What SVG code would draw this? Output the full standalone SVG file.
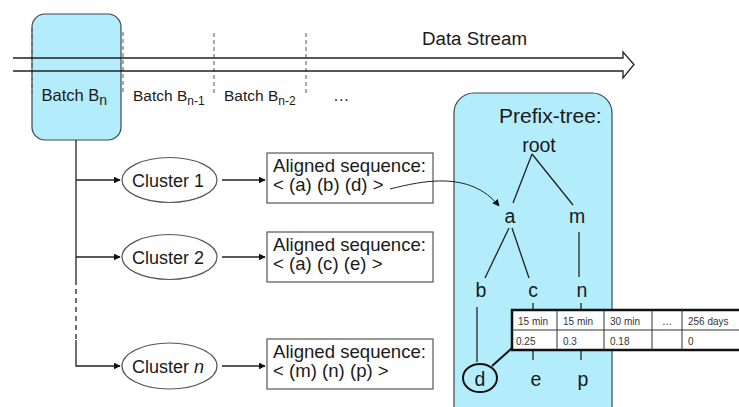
<svg xmlns="http://www.w3.org/2000/svg" width="739" height="407" viewBox="0 0 739 407">
<defs>
<marker id="ah" viewBox="0 0 10 10" refX="9" refY="5" markerWidth="7" markerHeight="7" orient="auto" markerUnits="userSpaceOnUse"><path d="M0,0 L10,5 L0,10 z" fill="#111"/></marker>
<style>
text{font-family:"Liberation Sans",Arial,sans-serif;fill:#1a1a1a}
.ln{stroke:#222;stroke-width:1.3;fill:none}
.dash{stroke:#555;stroke-width:1;stroke-dasharray:4 3;fill:none}
.blue{fill:#b3ecfa;stroke:#3a4a55;stroke-width:1.2}
.ell{fill:#fff;stroke:#555;stroke-width:1.2}
.box{fill:#fff;stroke:#555;stroke-width:1.2}
.cl{font-size:18px;text-anchor:middle}
.seq{font-size:18.6px}
.bt{font-size:16.5px}
.bt2{font-size:15.5px}
.sub{font-size:14px}
.sub2{font-size:12px}
.tree{font-size:19.5px;text-anchor:middle}
.tb{font-size:10px;fill:#333}
</style>
</defs>
<rect width="739" height="407" fill="#fff"/>

<g id="batch-n">
<rect class="blue" x="32" y="14" width="89" height="126" rx="13"/>
<text class="bt" x="41.5" y="101">Batch B<tspan class="sub" dy="4">n</tspan></text>
</g>

<g id="stream">
<line class="dash" x1="32" y1="28" x2="32" y2="93"/>
<line class="dash" x1="123" y1="32" x2="123" y2="93" stroke="#7a3a3a"/>
<line class="dash" x1="214" y1="33" x2="214" y2="93"/>
<line class="dash" x1="306" y1="33" x2="306" y2="93"/>
<path class="ln" d="M13,58 H623 V52 L634,64.5 L623,78 V71 H13"/>
<text x="422" y="45" font-size="18" textLength="105" lengthAdjust="spacingAndGlyphs">Data Stream</text>
<text class="bt2" x="133" y="101">Batch B<tspan class="sub2" dy="4">n-1</tspan></text>
<text class="bt2" x="224" y="101">Batch B<tspan class="sub2" dy="4">n-2</tspan></text>
<text class="bt" x="333" y="101">…</text>
</g>

<g id="prefix-tree">
<rect class="blue" x="454" y="93" width="158" height="340" rx="20"/>
<text x="499" y="123" font-size="21">Prefix-tree:</text>
<text class="tree" x="539" y="152">root</text>
<text class="tree" x="510" y="223">a</text>
<text class="tree" x="577" y="223">m</text>
<text class="tree" x="481" y="297">b</text>
<text class="tree" x="533" y="297">c</text>
<text class="tree" x="582" y="297">n</text>
<ellipse cx="480" cy="378" rx="17" ry="14" fill="none" stroke="#111" stroke-width="2"/>
<text class="tree" x="480" y="386">d</text>
<text class="tree" x="536" y="386">e</text>
<text class="tree" x="583" y="386">p</text>
<g class="ln" stroke-width="1">
<line x1="532" y1="154" x2="513" y2="203"/>
<line x1="532" y1="154" x2="573" y2="205"/>
<line x1="509" y1="228" x2="485" y2="278"/>
<line x1="512" y1="228" x2="529" y2="278"/>
<line x1="579" y1="232" x2="579" y2="277"/>
<line x1="477" y1="307" x2="477" y2="362"/>
<line x1="533" y1="303" x2="533" y2="360"/>
<line x1="581" y1="303" x2="581" y2="360"/>
</g>
</g>

<g id="table">
<line x1="492" y1="366" x2="512" y2="348" stroke="#111" stroke-width="2"/>
<rect x="512" y="310" width="240" height="40" fill="#fff" stroke="#111" stroke-width="2.5"/>
<g stroke="#333" stroke-width="1">
<line x1="512" y1="330" x2="752" y2="330"/>
<line x1="557" y1="310" x2="557" y2="350"/>
<line x1="604" y1="310" x2="604" y2="350"/>
<line x1="652" y1="310" x2="652" y2="350"/>
<line x1="682" y1="310" x2="682" y2="350"/>
</g>
<text class="tb" x="518" y="325">15 min</text>
<text class="tb" x="563" y="325">15 min</text>
<text class="tb" x="610" y="325">30 min</text>
<text class="tb" x="662" y="325" fill="#888">…</text>
<text class="tb" x="688" y="325">256 days</text>
<text class="tb" x="516" y="345">0.25</text>
<text class="tb" x="563" y="345">0.3</text>
<text class="tb" x="610" y="345">0.18</text>
<text class="tb" x="688" y="345">0</text>
</g>

<g id="cluster-1">
<ellipse class="ell" cx="169.5" cy="180" rx="47.5" ry="22.5"/>
<text class="cl" x="168" y="187">Cluster 1</text>
</g>
<g id="cluster-2">
<ellipse class="ell" cx="169.5" cy="257" rx="47.5" ry="22.5"/>
<text class="cl" x="168" y="264">Cluster 2</text>
</g>
<g id="cluster-n">
<ellipse class="ell" cx="169.5" cy="366" rx="47.5" ry="23"/>
<text class="cl" x="168" y="373">Cluster <tspan font-style="italic">n</tspan></text>
</g>

<g id="seq-1">
<rect class="box" x="267" y="153" width="166" height="50"/>
<text class="seq" x="273" y="172">Aligned sequence:</text>
<text class="seq" x="273" y="191">&lt; (a) (b) (d) &gt;</text>
</g>
<g id="seq-2">
<rect class="box" x="267" y="232" width="166" height="50"/>
<text class="seq" x="273" y="251">Aligned sequence:</text>
<text class="seq" x="273" y="270">&lt; (a) (c) (e) &gt;</text>
</g>
<g id="seq-n">
<rect class="box" x="267" y="339" width="166" height="50"/>
<text class="seq" x="273" y="358">Aligned sequence:</text>
<text class="seq" x="273" y="377">&lt; (m) (n) (p) &gt;</text>
</g>

<g id="connectors" class="ln">
<path d="M76,140 V280"/>
<path d="M76,280 V340" stroke-dasharray="5 4"/>
<path d="M76,340 V366 H120" marker-end="url(#ah)"/>
<path d="M76,180 H120" marker-end="url(#ah)"/>
<path d="M76,257 H120" marker-end="url(#ah)"/>
<path d="M222,180 H265" marker-end="url(#ah)"/>
<path d="M222,257 H265" marker-end="url(#ah)"/>
<path d="M222,366 H265" marker-end="url(#ah)"/>
<path d="M390,189 C422,181 470,170 499,206" stroke-width="1" marker-end="url(#ah)"/>
</g>
</svg>
